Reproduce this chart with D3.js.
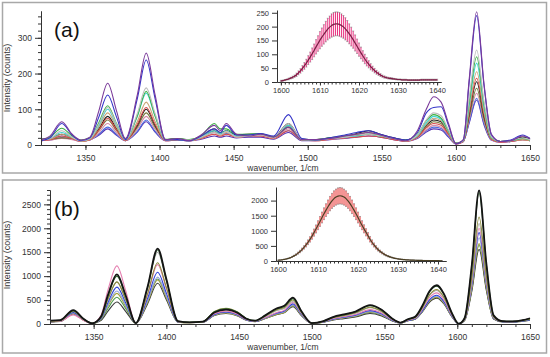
<!DOCTYPE html>
<html>
<head>
<meta charset="utf-8">
<script src="https://cdn.jsdelivr.net/npm/d3@7/dist/d3.min.js"></script>
<style>
  body { margin: 0; background: #fff; }
  svg { display: block; font-family: "Liberation Sans", Arial, sans-serif; }
  .axis path, .axis line { stroke: #333; }
  .axis text { fill: #333; }
</style>
</head>
<body>
<svg id="chart" width="550" height="357"></svg>
<script>
// ---- panel (a): wavenumbers sampled at peaks / valleys, one row per spectrum
var wnA = [1320, 1326, 1334, 1341, 1347, 1353, 1359, 1365, 1371, 1377,
           1385, 1391, 1397, 1404, 1412, 1420, 1428, 1437, 1441, 1445,
           1452, 1460, 1468, 1477, 1487, 1496, 1505, 1515, 1525, 1533,
           1541, 1549, 1558, 1566, 1574, 1580, 1585, 1590, 1595, 1600,
           1605, 1609, 1614, 1619, 1624, 1630, 1637, 1645, 1650];
var spectraA = [
  [15,25,65,30,14,22,95,173,95,18, 140,257,140,15,18,12,28,55,40,60, 30,25,30,22,50,15,15,18,25,30, 35,28,18,12,40,100,135,120,60,4, 15,185,373,170,30,10,12,25,18],
  [12,20,60,28,12,20,78,140,78,15, 130,238,130,14,15,12,25,45,35,55, 28,28,32,25,85,18,14,20,28,35, 40,30,20,14,35,90,105,107,55,3, 14,178,362,165,28,10,14,28,18],
  [14,18,40,22,12,18,58,105,58,16, 88,160,88,15,16,14,22,35,28,38, 22,25,28,20,60,16,15,18,22,28, 30,25,18,12,28,70,90,82,42,4, 12,132,266,120,22,10,12,20,15],
  [16,22,47,25,14,20,62,110,60,18, 82,150,82,16,18,15,25,60,45,45, 30,30,32,22,50,16,15,20,25,28, 30,25,18,14,30,68,85,75,40,5, 12,122,247,112,20,10,12,18,14],
  [15,18,35,22,12,18,55,100,55,15, 80,145,80,14,15,12,22,40,32,40, 25,28,30,22,55,15,14,18,22,25, 30,25,18,12,26,62,80,72,38,4, 12,112,229,104,20,10,12,18,14],
  [14,16,30,20,10,16,50,90,50,14, 66,120,66,14,16,12,20,35,28,35, 25,28,28,20,50,14,15,18,22,30, 35,28,18,12,25,58,75,68,35,4, 12,100,205,93,18,10,12,15,13],
  [12,15,25,18,10,15,42,75,42,12, 58,105,58,12,14,12,18,30,25,30, 22,25,25,18,40,14,12,16,20,22, 25,22,15,10,22,48,60,55,30,3, 10,92,187,85,16,8,10,15,12],
  [16,18,30,20,12,18,45,80,45,15, 55,100,55,15,18,14,22,40,32,40, 28,30,30,22,60,16,15,20,25,32, 40,30,20,14,25,55,70,65,35,5, 12,88,177,80,18,10,12,22,16],
  [14,16,20,18,12,16,40,70,40,14, 50,90,50,14,16,14,25,45,35,40, 28,30,30,22,55,16,14,18,22,28, 35,28,18,12,22,50,65,60,32,4, 12,78,159,72,16,10,12,20,15],
  [12,14,18,15,10,14,34,60,34,12, 44,80,44,12,14,12,18,30,25,30, 22,25,25,18,45,14,12,16,20,25, 30,25,16,10,20,42,55,50,28,3, 10,72,145,66,14,8,10,15,12],
  [14,16,25,18,12,15,30,50,30,12, 38,70,38,14,16,14,20,35,28,32, 24,26,26,20,40,14,14,18,22,26, 30,25,18,12,20,40,50,46,25,4, 10,65,131,60,14,8,10,18,14],
  [12,14,20,16,10,14,27,45,27,12, 36,65,36,12,14,12,16,25,22,25, 20,22,22,16,35,12,12,15,18,22, 25,22,15,10,18,36,45,42,22,3, 10,62,126,56,13,8,10,15,12]
];
var colorsA = ["#7a3a9a", "#3434c8", "#bdbdbd", "#3cb043", "#3fd3d3", "#c9a274",
               "#d94a4a", "#1e1e1e", "#76783a", "#d58aa8", "#4a6ae0", "#5530b0"];

// ---- panel (b)
var wnB = [1320, 1327, 1336, 1343, 1349, 1355, 1360, 1366, 1372, 1379,
           1387, 1394, 1400, 1408, 1416, 1425, 1433, 1441, 1449, 1455,
           1461, 1468, 1476, 1481, 1487, 1493, 1500, 1508, 1515, 1522,
           1530, 1540, 1548, 1555, 1561, 1566, 1571, 1576, 1581, 1586,
           1591, 1596, 1601, 1605, 1610, 1615, 1620, 1625, 1631, 1638,
           1645, 1650];
var spectraB = [
  [70,80,290,110,15,150,620,1035,600,20, 770,1575,940,60,35,50,240,300,230,110, 70,180,330,380,550,260,20,60,150,200, 260,395,300,120,30,100,150,380,690,810, 620,250,5,120,1230,2790,1260,180,60,55, 80,120],
  [70,78,280,105,15,145,600,1000,580,20, 755,1545,920,58,35,50,255,320,245,115, 70,175,320,365,530,250,20,58,145,195, 255,385,292,118,30,98,145,370,675,790, 605,245,5,118,1210,2750,1240,178,60,55, 80,115],
  [60,70,270,100,15,130,530,880,510,20, 625,1280,765,50,35,45,260,330,250,110, 65,165,300,345,500,235,18,55,135,180, 235,350,265,108,28,90,135,340,615,720, 550,225,5,100,985,2235,1005,150,55,50, 75,100],
  [60,70,260,98,15,130,530,880,510,20, 735,1500,895,55,35,45,240,300,230,105, 65,155,280,325,470,225,18,52,130,175, 225,340,258,105,28,88,130,330,600,700, 535,220,5,95,925,2100,945,140,55,50, 75,100],
  [50,58,190,75,15,175,730,1215,700,20, 605,1240,740,48,30,42,215,270,205,95, 60,135,240,285,450,215,16,48,115,155, 200,300,228,92,25,80,120,305,555,650, 495,200,4,90,880,2000,900,135,55,50, 80,110],
  [50,62,240,90,14,115,460,770,445,18, 530,1080,645,45,30,40,200,250,190,90, 55,130,230,270,420,200,15,45,105,145, 185,280,212,85,24,75,112,280,510,600, 460,185,4,85,840,1910,860,125,50,45, 65,90],
  [50,60,230,88,14,105,415,690,400,18, 480,980,585,42,30,40,192,240,182,86, 54,125,220,258,400,190,15,42,100,135, 172,260,197,80,22,72,108,272,495,580, 445,180,4,80,790,1800,810,120,50,45, 65,90],
  [50,58,220,85,14,98,385,640,370,18, 450,920,550,40,28,38,185,230,175,82, 52,115,200,240,380,180,14,40,95,128, 165,250,190,76,22,70,105,262,478,560, 430,172,4,75,740,1680,755,112,48,45, 65,90],
  [40,52,210,80,12,70,275,460,265,16, 415,850,505,38,26,36,176,220,168,78, 50,115,200,235,360,170,13,36,85,112, 145,220,168,68,20,68,100,252,460,540, 415,166,3,70,685,1560,700,105,45,40, 58,80],
  [50,60,230,88,14,86,335,560,325,18, 460,940,560,42,30,40,192,240,182,86, 54,120,210,245,380,180,14,40,95,125, 160,240,182,74,22,70,105,262,478,560, 430,172,4,75,725,1650,740,110,48,45, 65,90]
];
var colorsB = ["#141414", "#2e6b30", "#8a8a3a", "#a9a9a9", "#e57fb0",
               "#2b3fd6", "#93a3d8", "#a5a33c", "#3a3a3a", "#4f9a4f"];

// ---- insets: mean and std of the 1615 band, 0.5 cm-1 steps from 1600
var insetWnA = d3.range(1600, 1640.5, 0.5);
var insetMeanA = [4,5,7,9,11,14,17,21,26,33,
                  40,49,58,68,79,90,102,114,127,139,
                  151,162,172,182,191,198,204,208,210,210,
                  208,204,199,192,184,174,164,153,141,129,
                  117,105,94,83,73,64,55,48,41,35,
                  30,25,21,18,16,14,13,12,11,10,
                  9,9,8,8,8,7,7,7,7,7,
                  7,7,8,8,8,8,8,8,8,8,
                  8];
var insetStdA = [2,2,2,2,3,3,4,4,6,7,
                 8,10,12,14,16,18,21,23,26,28,
                 31,33,35,37,39,40,42,43,43,43,
                 43,42,41,40,38,36,34,31,29,26,
                 24,21,19,17,15,13,11,9,8,7,
                 6,5,4,4,3,3,3,3,2,2,
                 2,2,2,2,2,2,2,2,2,2,
                 2,2,2,2,2,2,2,2,2,2,
                 2];
var insetWnB = d3.range(1600, 1641.5, 0.5);
var insetMeanB = [25,32,40,52,65,84,105,135,170,210,
                  260,315,380,450,530,620,715,825,940,1060,
                  1185,1310,1440,1565,1685,1795,1900,1990,2065,2115,
                  2150,2160,2150,2115,2065,1990,1900,1795,1685,1565,
                  1440,1310,1185,1065,950,835,720,620,530,450,
                  380,320,270,228,190,160,135,114,95,82,
                  70,60,52,46,40,36,32,29,26,24,
                  22,20,18,16,15,14,13,12,11,10,
                  10,9,9];
var insetStdB = [5,5,6,7,9,11,14,17,21,27,
                 34,40,48,56,66,78,90,104,118,133,
                 148,164,180,196,210,225,238,248,258,265,
                 270,272,270,265,258,248,238,225,210,196,
                 180,164,148,134,120,106,92,80,68,58,
                 50,42,36,30,26,22,19,16,14,12,
                 11,10,9,8,7,6,6,5,5,5,
                 5,4,4,4,4,4,4,3,3,3,
                 3,3,3];

var majorX = [1350, 1400, 1450, 1500, 1550, 1600, 1650];
var fmt = d3.format("d");

var svg = d3.select("#chart");

function panel(o) {
  var g = svg.append("g");
  g.append("rect")
    .attr("x", 2.5).attr("y", o.top)
    .attr("width", 544).attr("height", o.h)
    .attr("fill", "none").attr("stroke", "#a8a8a8").attr("stroke-width", 1.5);

  var x = d3.scaleLinear().domain([1320, 1650]).range([o.left, 530]);
  var y = d3.scaleLinear().domain(o.yDomain).range(o.yRange);

  var line = d3.line()
    .x(function(d, i) { return x(o.wn[i]); })
    .y(function(d) { return y(d); })
    .curve(d3.curveMonotoneX);

  for (var k = o.spectra.length - 1; k >= 0; k--) {
    g.append("path")
      .attr("d", line(o.spectra[k]))
      .attr("fill", "none")
      .attr("stroke", o.colors[k])
      .attr("stroke-width", k == 0 && o.thickFirst ? 1.8 : 1.1);
  }

  // x axis: minor then major ticks
  g.append("g").attr("class", "axis")
    .attr("transform", "translate(0," + o.yRange[0] + ")")
    .call(d3.axisBottom(x).tickValues(d3.range(1330, 1651, 10)).tickSize(3).tickSizeOuter(0).tickFormat(""));
  g.append("g").attr("class", "axis")
    .attr("transform", "translate(0," + o.yRange[0] + ")")
    .call(d3.axisBottom(x).tickValues(majorX).tickSize(5).tickSizeOuter(0).tickPadding(5).tickFormat(fmt))
    .selectAll("text").attr("font-size", 8.5);

  g.append("g").attr("class", "axis")
    .attr("transform", "translate(" + o.left + ",0)")
    .call(d3.axisLeft(y).tickValues(o.minorY).tickSize(3).tickSizeOuter(0).tickFormat(""));
  g.append("g").attr("class", "axis")
    .attr("transform", "translate(" + o.left + ",0)")
    .call(d3.axisLeft(y).tickValues(o.majorY).tickSize(6).tickSizeOuter(0).tickPadding(3).tickFormat(fmt))
    .selectAll("text").attr("font-size", 8.5);

  g.append("text")
    .attr("transform", "translate(10," + o.yLabelY + ") rotate(-90)")
    .attr("text-anchor", "middle").attr("font-size", 9).attr("fill", "#333")
    .text("Intensity (counts)");
  g.append("text")
    .attr("x", 283).attr("y", o.xLabelY)
    .attr("text-anchor", "middle").attr("font-size", 8.5).attr("fill", "#333")
    .text("wavenumber, 1/cm");
  g.append("text")
    .attr("x", 54).attr("y", o.tagY)
    .attr("font-size", 21).attr("fill", "#111")
    .text(o.tag);
}

function inset(o) {
  var g = svg.append("g");
  var x = d3.scaleLinear().domain(o.xDomain).range(o.xRange);
  var y = d3.scaleLinear().domain(o.yDomain).range(o.yRange);

  var bars = g.selectAll("g.eb").data(o.mean).enter().append("g");
  bars.append("line")
    .attr("x1", function(d, i) { return x(o.wn[i]); })
    .attr("x2", function(d, i) { return x(o.wn[i]); })
    .attr("y1", function(d, i) { return y(d - o.std[i]); })
    .attr("y2", function(d, i) { return y(d + o.std[i]); })
    .attr("stroke", o.barColor).attr("stroke-width", 1);
  [-1, 1].forEach(function(s) {
    bars.append("line")
      .attr("x1", function(d, i) { return x(o.wn[i]) - 1; })
      .attr("x2", function(d, i) { return x(o.wn[i]) + 1; })
      .attr("y1", function(d, i) { return y(d + s * o.std[i]); })
      .attr("y2", function(d, i) { return y(d + s * o.std[i]); })
      .attr("stroke", "#7a7a7a").attr("stroke-width", 0.6);
  });

  g.append("path")
    .attr("d", d3.line()
      .x(function(d, i) { return x(o.wn[i]); })
      .y(function(d) { return y(d); })
      .curve(d3.curveMonotoneX)(o.mean))
    .attr("fill", "none").attr("stroke", o.lineColor).attr("stroke-width", 1.2);

  g.append("g").attr("class", "axis")
    .attr("transform", "translate(0," + o.yRange[0] + ")")
    .call(d3.axisBottom(x).tickValues(d3.range(1600, 1641, 1)).tickSize(2.5).tickSizeOuter(0).tickFormat(""));
  g.append("g").attr("class", "axis")
    .attr("transform", "translate(0," + o.yRange[0] + ")")
    .call(d3.axisBottom(x).tickValues([1600, 1610, 1620, 1630, 1640]).tickSize(3.5).tickSizeOuter(0).tickPadding(2.5).tickFormat(fmt))
    .selectAll("text").attr("font-size", 7.5);
  g.append("g").attr("class", "axis")
    .attr("transform", "translate(" + o.xRange[0] + ",0)")
    .call(d3.axisLeft(y).tickValues(o.ticksY).tickSize(5).tickSizeOuter(0).tickPadding(3).tickFormat(fmt))
    .selectAll("text").attr("font-size", 7.5);
}

panel({ top: 2.5, h: 170.5, left: 41, wn: wnA, spectra: spectraA, colors: colorsA,
        yDomain: [0, 375], yRange: [145, 11],
        majorY: [0, 100, 200, 300], minorY: d3.range(0, 375, 20),
        yLabelY: 78, xLabelY: 171, tag: "(a)", tagY: 37, thickFirst: false });
panel({ top: 180, h: 173, left: 50, wn: wnB, spectra: spectraB, colors: colorsB,
        yDomain: [0, 2800], yRange: [324, 190],
        majorY: [0, 500, 1000, 1500, 2000, 2500], minorY: d3.range(0, 2801, 100),
        yLabelY: 255, xLabelY: 350, tag: "(b)", tagY: 216, thickFirst: true });

inset({ wn: insetWnA, mean: insetMeanA, std: insetStdA,
        xDomain: [1599, 1641], xRange: [277, 441], yDomain: [0, 260], yRange: [82, 10],
        ticksY: [0, 50, 100, 150, 200, 250], barColor: "#e8307f", lineColor: "#7a1f45" });
inset({ wn: insetWnB, mean: insetMeanB, std: insetStdB,
        xDomain: [1599.5, 1642], xRange: [276, 446], yDomain: [0, 2450], yRange: [261, 187],
        ticksY: [0, 500, 1000, 1500, 2000], barColor: "#e82a2a", lineColor: "#4a4024" });
</script>
</body>
</html>
